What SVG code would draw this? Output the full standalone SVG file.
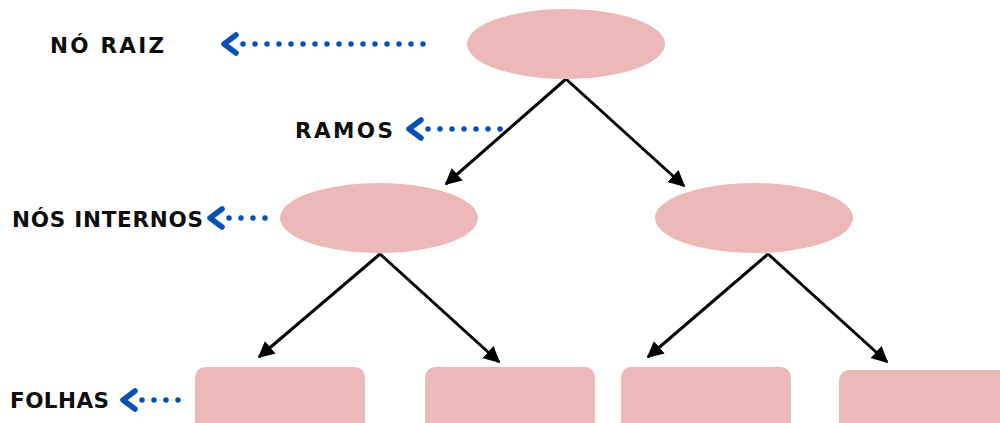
<svg xmlns="http://www.w3.org/2000/svg" width="1000" height="423" viewBox="0 0 1000 423">
<defs>
<style>
.node{fill:#ecb9b8}
.lbl{font-family:"DejaVu Sans","Liberation Sans",Arial,sans-serif;font-weight:bold;font-size:21.5px;fill:#0d0d0d}
.edge{stroke:#000;stroke-width:3;fill:none;marker-end:url(#ah)}
.dots{stroke:#0a4fb5;stroke-width:5.5;stroke-linecap:round;stroke-dasharray:0 12;fill:none}
.chev{stroke:#0a4fb5;stroke-width:5.5;stroke-linecap:round;stroke-linejoin:round;fill:none}
</style>
<marker id="ah" viewBox="0 0 10 10" refX="9" refY="5" markerWidth="5.5" markerHeight="5.5" orient="auto" markerUnits="strokeWidth">
<path d="M0,0 L10,5 L0,10 z" fill="#000"/>
</marker>
</defs>
<rect width="1000" height="423" fill="#fff"/>
<g id="connectors">
<line class="edge" x1="566" y1="79" x2="446" y2="184"/>
<line class="edge" x1="566" y1="79" x2="684" y2="186"/>
<line class="edge" x1="380" y1="254" x2="259" y2="357"/>
<line class="edge" x1="380" y1="254" x2="499" y2="362"/>
<line class="edge" x1="768" y1="254" x2="648" y2="357"/>
<line class="edge" x1="768" y1="254" x2="887" y2="362"/>
</g>
<g id="root"><ellipse class="node" cx="566" cy="44" rx="99" ry="35"/></g>
<g id="internal-left"><ellipse class="node" cx="379" cy="218" rx="99" ry="35"/></g>
<g id="internal-right"><ellipse class="node" cx="754" cy="218" rx="99" ry="35"/></g>
<g id="leaf1"><rect class="node" x="195" y="367" width="170" height="70" rx="10"/></g>
<g id="leaf2"><rect class="node" x="425" y="367" width="170" height="70" rx="10"/></g>
<g id="leaf3"><rect class="node" x="621" y="367" width="170" height="70" rx="10"/></g>
<g id="leaf4"><rect class="node" x="839" y="370" width="180" height="70" rx="10"/></g>
<g id="label-raiz">
<text class="lbl" x="50" y="53" textLength="114" lengthAdjust="spacing">NÓ RAIZ</text>
<path class="chev" d="M236,35 L224,44 L236,53"/>
<line class="dots" x1="243" y1="44" x2="424" y2="44"/>
</g>
<g id="label-ramos">
<text class="lbl" x="295" y="138" textLength="98" lengthAdjust="spacing">RAMOS</text>
<path class="chev" d="M421,120 L409,129 L421,138"/>
<line class="dots" x1="428" y1="129" x2="501" y2="129"/>
</g>
<g id="label-internos">
<text class="lbl" x="12" y="227" textLength="191" lengthAdjust="spacing">NÓS INTERNOS</text>
<path class="chev" d="M222,209 L210,218 L222,227"/>
<line class="dots" x1="229" y1="218" x2="266" y2="218"/>
</g>
<g id="label-folhas">
<text class="lbl" x="10" y="408" textLength="99" lengthAdjust="spacing">FOLHAS</text>
<path class="chev" d="M135,391 L123,400 L135,409"/>
<line class="dots" x1="142" y1="400" x2="179" y2="400"/>
</g>
</svg>
